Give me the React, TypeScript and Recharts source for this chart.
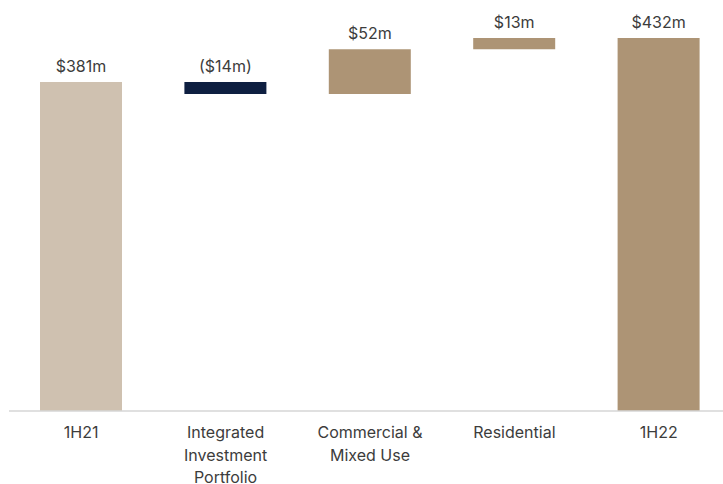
import { Bar, BarChart, Cell, LabelList, XAxis, YAxis } from "recharts";

const CATEGORIES = ["1H21", "Integrated Investment Portfolio", "Commercial & Mixed Use", "Residential", "1H22"];
const TICK_LINES = [["1H21"], ["Integrated", "Investment", "Portfolio"], ["Commercial &", "Mixed Use"], ["Residential"], ["1H22"]];
const CHANGES = [381, -14, 52, 13, 432];
const IS_TOTAL = [true, false, false, false, true];
const COLORS = ["#CFC1B0", "#0E1F41", "#AD9475", "#AD9475", "#AD9475"];

const FONT = "Inter, 'Noto Sans', sans-serif";

let running = 0;
const data = CATEGORIES.map((name, i) => {
  let range: [number, number];
  if (IS_TOTAL[i]) {
    range = [0, CHANGES[i]];
    running = CHANGES[i];
  } else {
    const next = running + CHANGES[i];
    range = [Math.min(running, next), Math.max(running, next)];
    running = next;
  }
  return { name, range };
});

const fmt = (v: number) => (v < 0 ? `($${Math.abs(v)}m)` : `$${v}m`);

const CategoryTick = (props: any) => {
  const { x, y, index } = props;
  const lines = TICK_LINES[index] || [];
  return (
    <text x={x} y={y + 4} textAnchor="middle" fill="#3C3C3C" fontSize={16} fontFamily={FONT}>
      {lines.map((l, i) => (
        <tspan key={i} x={x} dy={i === 0 ? 15 : 22.5}>
          {l}
        </tspan>
      ))}
    </text>
  );
};

const ValueLabel = (props: any) => {
  const { x, y, width, index } = props;
  return (
    <text x={x + width / 2} y={y - 10} textAnchor="middle" fill="#3C3C3C" fontSize={16} fontFamily={FONT}>
      {fmt(CHANGES[index])}
    </text>
  );
};

export default function App() {
  return (
    <div style={{ position: "fixed", left: 0, top: 0, width: 723, height: 484, overflow: "hidden", background: "#fff" }}>
      <BarChart width={731} height={484} data={data} margin={{ top: 31, right: 0, bottom: 0, left: 9 }}>
        <XAxis
          dataKey="name"
          axisLine={{ stroke: "#D6D6D6", strokeWidth: 1.5 }}
          tickLine={false}
          tick={<CategoryTick />}
          interval={0}
          height={73}
        />
        <YAxis hide domain={[0, 440]} />
        <Bar dataKey="range" barSize={82} isAnimationActive={false}>
          {data.map((d, i) => (
            <Cell key={d.name} fill={COLORS[i]} />
          ))}
          <LabelList dataKey="range" content={<ValueLabel />} />
        </Bar>
      </BarChart>
    </div>
  );
}
